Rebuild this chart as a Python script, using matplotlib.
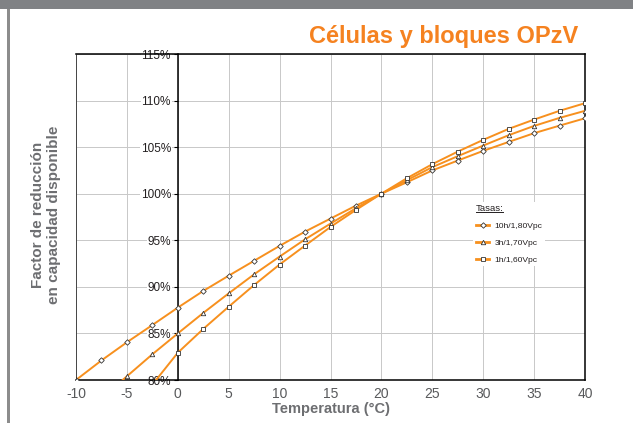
import matplotlib
matplotlib.use("Agg")
import matplotlib.pyplot as plt
from matplotlib.patches import Rectangle
from matplotlib.lines import Line2D
import numpy as np

plt.rcParams['font.family'] = ['Liberation Sans', 'DejaVu Sans']
plt.rcParams['axes.unicode_minus'] = False

temps = [-10, -7.5, -5, -2.5, 0, 2.5, 5, 7.5, 10, 12.5, 15, 17.5, 20,
         22.5, 25, 27.5, 30, 32.5, 35, 37.5, 40]
s_10h = [80.0, 82.1, 84.05, 85.9, 87.77, 89.56, 91.2, 92.8, 94.4, 95.93, 97.33, 98.72, 100.0,
         101.23, 102.5, 103.56, 104.6, 105.56, 106.5, 107.31, 108.1]
s_3h = [None, 78.0, 80.4, 82.76, 85.0, 87.2, 89.3, 91.35, 93.25, 95.1, 96.79, 98.44, 100.0,
        101.45, 102.85, 104.03, 105.17, 106.28, 107.28, 108.14, 108.9]
s_1h = [None, None, None, 79.5, 82.93, 85.48, 87.87, 90.2, 92.4, 94.43, 96.43, 98.26, 100.0,
        101.66, 103.17, 104.52, 105.78, 106.96, 107.96, 108.9, 109.72]
labels = ['10h/1,80Vpc', '3h/1,70Vpc', '1h/1,60Vpc']
markers = ['D', '^', 's']
xticks = [-10, -5, 0, 5, 10, 15, 20, 25, 30, 35, 40]
yticks = [80, 85, 90, 95, 100, 105, 110, 115]
title = 'Células y bloques OPzV'
xlabel = 'Temperatura (°C)'
ylabel = 'Factor de reducción\nen capacidad disponible'

orange = '#F7901E'
fig = plt.figure(figsize=(6.33, 4.23), dpi=100)
ax = fig.add_axes([76/633, 1-380/423, (585-76)/633, (380-54)/423])

for ys, m, lab in zip([s_10h, s_3h, s_1h], markers, labels):
    x = np.array([t for t, v in zip(temps, ys) if v is not None], float)
    y = np.array([v for v in ys if v is not None], float)
    ax.plot(x, y, color=orange, lw=1.4, marker=m, ms=3.2 if m != 'D' else 2.8,
            mfc='white', mec='#333333', mew=0.6, label=lab, zorder=3)

ax.set_xlim(-10, 40)
ax.set_ylim(80, 115)
ax.set_xticks(xticks)
ax.set_yticks(yticks)
ax.set_yticklabels([f'{v}%' for v in yticks])
ax.grid(True, color='#c8c8c8', lw=0.7)
ax.set_axisbelow(True)

ax.spines['left'].set_position(('data', 0))
for s in ['left', 'right', 'top', 'bottom']:
    ax.spines[s].set_color('black')
    ax.spines[s].set_linewidth(1.1)
ax.axvline(-10, color='#222222', lw=1.1, zorder=4)

ax.tick_params(axis='x', length=0, pad=5, labelsize=10, labelcolor='#58595b')
ax.tick_params(axis='y', length=3, width=0.8, pad=2, labelsize=8.5, labelcolor='#231f20')
for lbl in ax.get_yticklabels():
    lbl.set_bbox(dict(facecolor='white', edgecolor='none', pad=0.6))
    lbl.set_zorder(5)

ax.set_xlabel(xlabel, fontsize=10.5, fontweight='bold', color='#6d6e71', labelpad=1)
fig.text(46/633, 1-215/423, ylabel, rotation=90, ha='center', va='center',
         fontsize=11, fontweight='bold', color='#6d6e71', linespacing=1.2)

fig.text(578/633, 1-36/423, title, ha='right', va='center', fontsize=17,
         fontweight='bold', color='#F58220')

leg = ax.legend(loc='upper left', bbox_to_anchor=(0.772, 0.56), fontsize=6.1,
                title='Tasas:', title_fontsize=6.8, alignment='left',
                frameon=True, facecolor='white', edgecolor='none', framealpha=1,
                handlelength=1.6, handletextpad=0.6, labelspacing=1.05,
                borderpad=0.3, fancybox=False)
leg.get_title().set_color('#231f20')
for t in leg.get_texts():
    t.set_color('#231f20')
for h in leg.legend_handles:
    h.set_linewidth(2.0)

# decorations
fig.patches.append(Rectangle((0, 1-9/423), 1, 9/423, transform=fig.transFigure,
                             facecolor='#808285', edgecolor='none'))
fig.patches.append(Rectangle((7.5/633, 0), 2/633, 1-9/423, transform=fig.transFigure,
                             facecolor='#8c8c8c', edgecolor='none'))

fig.canvas.draw()
bb = leg.get_title().get_window_extent().transformed(fig.transFigure.inverted())
fig.add_artist(Line2D([bb.x0, bb.x1], [bb.y0 + 0.002, bb.y0 + 0.002],
                      transform=fig.transFigure, color='#231f20', lw=0.7))

fig.savefig('out.png', dpi=100)
